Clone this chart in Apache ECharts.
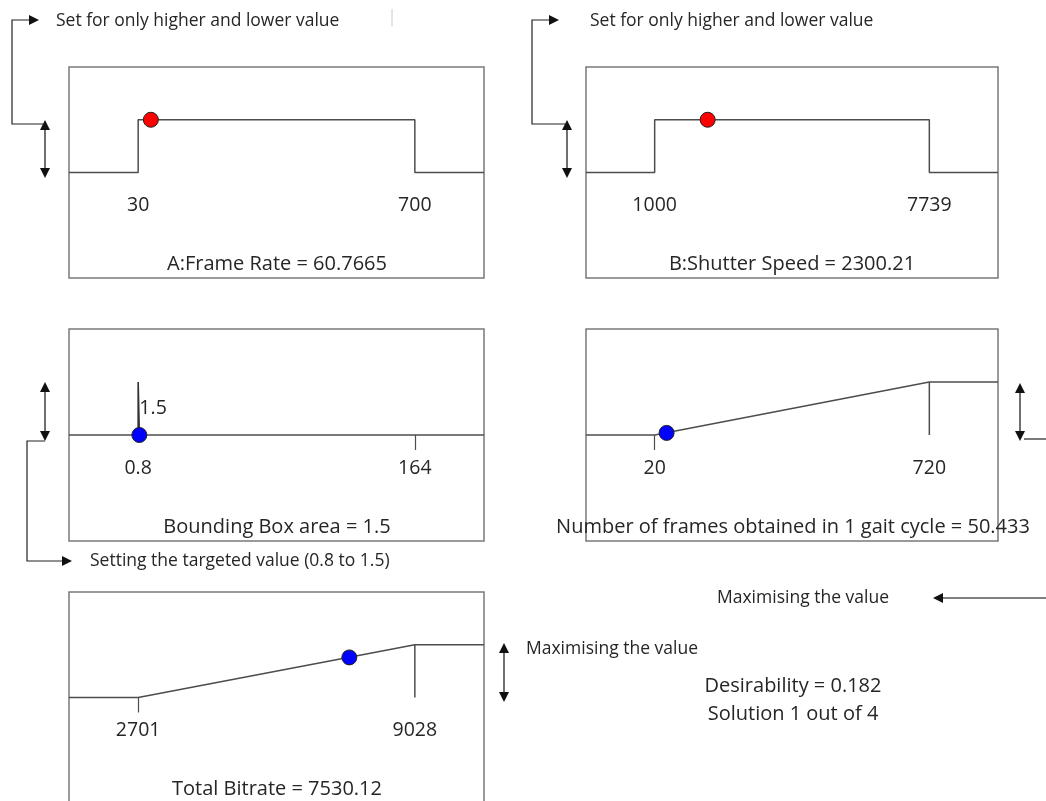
<!DOCTYPE html>
<html>
<head>
<meta charset="utf-8">
<script src="https://cdn.jsdelivr.net/npm/echarts@6/dist/echarts.min.js"></script>
<style>
  html, body { margin: 0; padding: 0; background: #fff; }
  #chart { width: 1046px; height: 801px; }
</style>
</head>
<body>
<div id="chart"></div>
<script>
// Factor names shown under each desirability ramp
const factorNames = ['A:Frame Rate', 'B:Shutter Speed', 'Bounding Box area',
  'Number of frames obtained in 1 gait cycle', 'Total Bitrate'];
// Lower and upper limits of each factor / response
const lowerLimits = [30, 1000, 0.8, 20, 2701];
const upperLimits = [700, 7739, 164, 720, 9028];
// Optimised solution value of each factor / response
const solutionValues = [60.7665, 2300.21, 1.5, 50.433, 7530.12];
const solutionText = ['60.7665', '2300.21', '1.5', '50.433', '7530.12'];
// Individual desirability at the solution (height of the dot on the ramp)
const solutionDesirability = [1, 1, 0, 0.04, 0.76];
// Goal type of each ramp
const goals = ['range', 'range', 'target', 'maximize', 'maximize'];
// Target window of the bounding-box area
const targetWindow = [0.8, 1.5];
// Overall result
const overallDesirability = 0.182;
const solutionIndex = 1;
const solutionCount = 4;

const FONT = 'Open Sans';
const LINE = '#4d4d4d';
const BOX = '#7a7a7a';
const TXT = '#262626';
const NOTE_SIZE = 17.5;

// Panel boxes in pixels
const boxes = [
  { left: 69, top: 67, width: 415, height: 211 },
  { left: 586, top: 67, width: 412, height: 211 },
  { left: 69, top: 329, width: 415, height: 212 },
  { left: 586, top: 329, width: 412, height: 212 },
  { left: 69, top: 592, width: 415, height: 211 }
];
const dotColors = ['#ff0000', '#ff0000', '#0000ff', '#0000ff', '#0000ff'];
const tickAt = [[], [], [upperLimits[2]], [lowerLimits[3]], [lowerLimits[4]]];

const grids = [], xAxes = [], yAxes = [], series = [];

boxes.forEach((b, i) => {
  const lo = lowerLimits[i], hi = upperLimits[i];
  const pad = (hi - lo) / 4;
  const xmin = lo - pad, xmax = hi + pad;
  grids.push({ left: b.left, top: b.top, width: b.width, height: b.height,
    outerBoundsMode: 'none', containLabel: false,
    show: true, borderColor: BOX, borderWidth: 1.5, backgroundColor: 'transparent' });
  xAxes.push({
    gridIndex: i, type: 'value', min: xmin, max: xmax, position: 'bottom',
    splitLine: { show: false },
    axisLine: { show: true, onZero: true, lineStyle: { color: 'rgba(0,0,0,0)', width: 0 } },
    axisTick: { show: tickAt[i].length > 0, customValues: tickAt[i], length: 15,
      lineStyle: { color: LINE, width: 1.2 } },
    axisLabel: { show: false }
  });
  yAxes.push({ gridIndex: i, type: 'value', min: -2, max: 2,
    axisLine: { show: false }, axisTick: { show: false }, axisLabel: { show: false },
    splitLine: { show: false } });

  let path;
  if (goals[i] === 'range') {
    path = [[xmin, 0], [lo, 0], [lo, 1], [hi, 1], [hi, 0], [xmax, 0]];
  } else if (goals[i] === 'maximize') {
    path = [[xmin, 0], [lo, 0], [hi, 1], [xmax, 1]];
  } else {
    path = [[xmin, 0], [xmax, 0]];
  }
  series.push({ type: 'line', xAxisIndex: i, yAxisIndex: i, data: path,
    symbol: 'none', silent: true, animation: false,
    lineStyle: { color: LINE, width: 1.5 } });

  // limit values written under the zero level
  series.push({ type: 'scatter', xAxisIndex: i, yAxisIndex: i,
    data: [[lo, 0], [hi, 0]], symbolSize: 0, animation: false, silent: true,
    itemStyle: { opacity: 1 },
    label: { show: true, position: [0, 33], align: 'center', verticalAlign: 'middle',
      formatter: p => String(p.value[0]), fontSize: 19.5, color: TXT, fontFamily: FONT } });

  if (goals[i] === 'maximize') {
    // drop line under the upper limit
    series.push({ type: 'line', xAxisIndex: i, yAxisIndex: i,
      data: [[hi, 1], [hi, 0]], symbol: 'none', animation: false,
      lineStyle: { color: LINE, width: 1.5 } });
  }
  if (goals[i] === 'target') {
    // narrow target window spike with its upper value written beside it
    series.push({ type: 'line', xAxisIndex: i, yAxisIndex: i,
      data: [[targetWindow[0], 0], [targetWindow[0], 1], [targetWindow[1], 1], [targetWindow[1], 0]],
      symbol: 'none', animation: false,
      lineStyle: { color: '#333', width: 1.6 } });
    series.push({ type: 'scatter', xAxisIndex: i, yAxisIndex: i,
      data: [[targetWindow[1], 0.5]], symbolSize: 0, animation: false,
      itemStyle: { opacity: 1 },
      label: { show: true, position: 'right', distance: 0, formatter: String(targetWindow[1]),
        fontSize: 19.5, color: TXT, fontFamily: FONT } });
  }

  series.push({ type: 'scatter', xAxisIndex: i, yAxisIndex: i,
    data: [[solutionValues[i], solutionDesirability[i]]], symbol: 'circle', symbolSize: 15,
    animation: false, z: 5,
    itemStyle: { color: dotColors[i], opacity: 1, borderColor: '#222', borderWidth: 1 } });
});

// Captions under each panel
const captionPos = [[277, 264], [792, 264], [277, 527], [793, 527], [277, 789]];
const graphics = [];
captionPos.forEach((p, i) => {
  graphics.push({ type: 'text', x: p[0], y: p[1], z: 10,
    style: { text: factorNames[i] + ' = ' + solutionText[i], fontSize: 20,
      fontFamily: FONT, fill: TXT, align: 'center', verticalAlign: 'middle' } });
});

function note(text, x, y, size, align) {
  graphics.push({ type: 'text', x: x, y: y, z: 10,
    style: { text: text, fontSize: size || NOTE_SIZE, fontFamily: FONT, fill: TXT,
      align: align || 'left', verticalAlign: 'middle' } });
}
function polyline(pts, color, w) {
  graphics.push({ type: 'polyline', z: 10, shape: { points: pts },
    style: { stroke: color || '#222', lineWidth: w || 1.2, fill: null } });
}
function head(x, y, dir) {
  const L = 10, W = 5;
  let pts;
  if (dir === 'right') pts = [[x, y], [x - L, y - W], [x - L, y + W]];
  if (dir === 'left') pts = [[x, y], [x + L, y - W], [x + L, y + W]];
  if (dir === 'up') pts = [[x, y], [x - W, y + L], [x + W, y + L]];
  if (dir === 'down') pts = [[x, y], [x - W, y - L], [x + W, y - L]];
  graphics.push({ type: 'polygon', z: 10, shape: { points: pts }, style: { fill: '#111' } });
}
function doubleArrow(x, y1, y2) {
  polyline([[x, y1 + 6], [x, y2 - 6]], '#222', 1.3);
  head(x, y1, 'up');
  head(x, y2, 'down');
}

// Range goal notes (panels A and B)
doubleArrow(45, 120, 178);
polyline([[45, 124], [12, 124], [12, 20], [32, 20]]);
head(39, 20, 'right');
note('Set for only higher and lower value', 56, 21);

doubleArrow(567, 120, 178);
polyline([[567, 124], [532, 124], [532, 20], [552, 20]]);
head(559, 20, 'right');
note('Set for only higher and lower value', 590, 21);

graphics.push({ type: 'line', z: 10, shape: { x1: 392, y1: 9, x2: 392, y2: 26 },
  style: { stroke: '#c8c8c8', lineWidth: 1 } });

// Target goal note (panel C)
doubleArrow(45, 382, 441);
polyline([[45, 441], [27, 441], [27, 561], [65, 561]]);
head(72, 561, 'right');
note('Setting the targeted value (0.8 to 1.5)', 90, 561);

// Maximise goal notes (panels D and E)
doubleArrow(1020, 383, 441);
polyline([[1024, 439], [1046, 439]]);
polyline([[940, 598], [1046, 598]], '#555', 1.3);
head(933, 598, 'left');
note('Maximising the value', 717, 598);

doubleArrow(504, 643, 702);
note('Maximising the value', 526, 649);

// Overall desirability
note('Desirability = ' + overallDesirability, 793, 686, 20, 'center');
note('Solution ' + solutionIndex + ' out of ' + solutionCount, 793, 714, 20, 'center');

const chart = echarts.init(document.getElementById('chart'), null, { renderer: 'canvas' });
chart.setOption({
  animation: false,
  backgroundColor: '#ffffff',
  grid: grids,
  xAxis: xAxes,
  yAxis: yAxes,
  series: series,
  graphic: graphics
});
</script>
</body>
</html>
